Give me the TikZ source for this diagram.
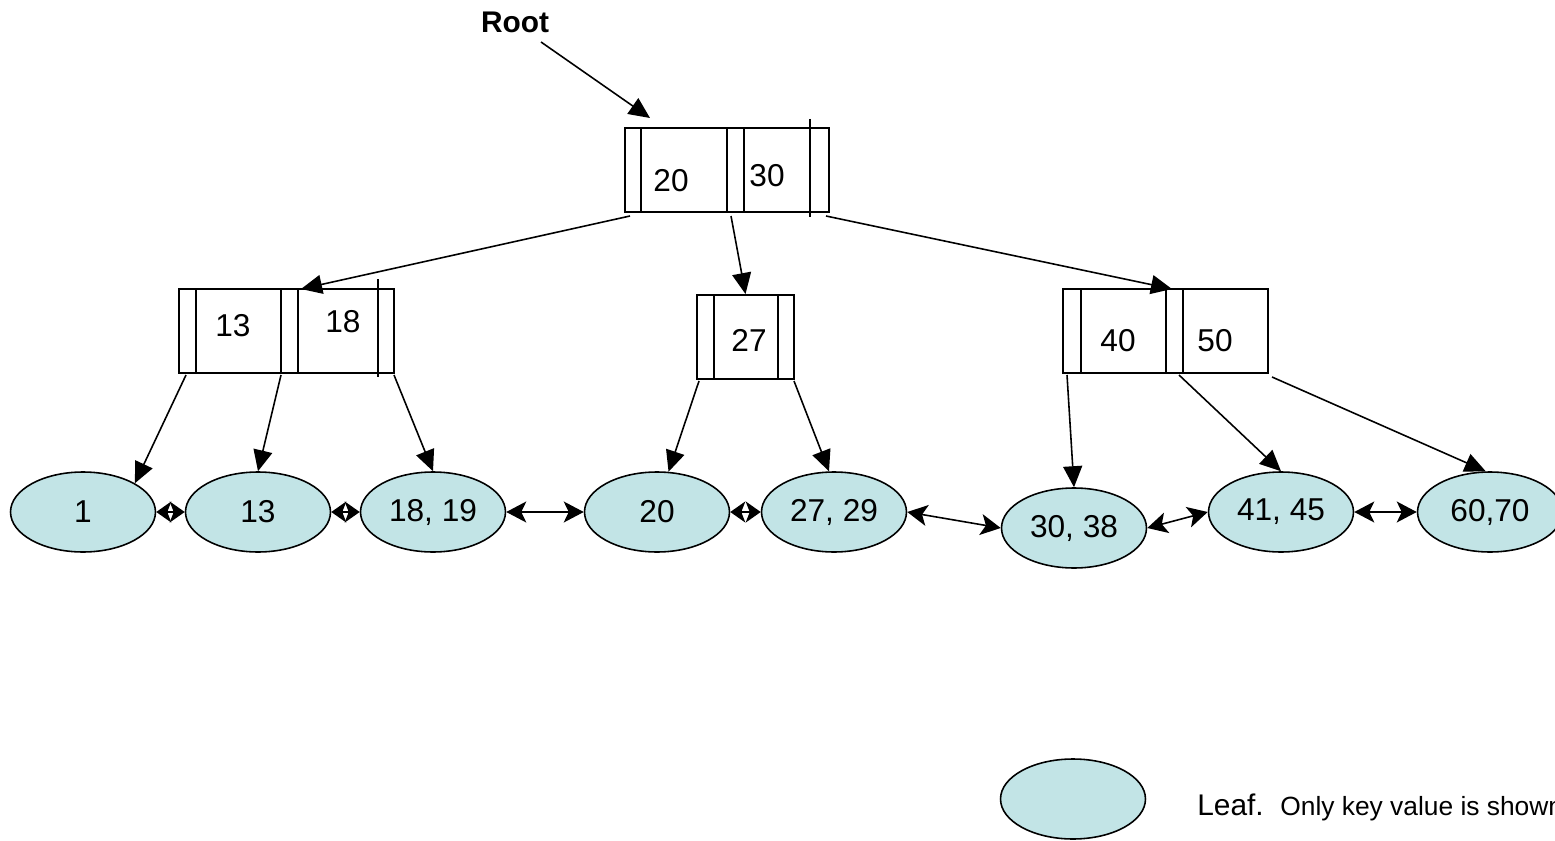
\documentclass[tikz,border=0pt]{standalone}
\usepackage{fontspec}
\setmainfont{Liberation Sans}
\usetikzlibrary{arrows.meta,shapes.geometric}
\definecolor{leafc}{RGB}{194,228,230}
\begin{document}
\begin{tikzpicture}[x=0.02cm,y=-0.02cm,
  leaf/.style={ellipse, draw=black, line width=0.9pt, fill=leafc,
    minimum width=2.9cm, minimum height=1.6cm, inner sep=0pt,
    font=\fontsize{18}{21}\selectfont},
  lbl/.style={font=\fontsize{18}{21}\selectfont, inner sep=0pt},
  boxo/.style={draw, line width=1.1pt, inner sep=0pt, minimum height=1.68cm},
  sepline/.style={line width=1.6pt},
  tarr/.style={-{Triangle[length=0.42cm,width=0.38cm]}, line width=0.9pt},
  larr/.style={{Stealth[length=0.4cm,width=0.42cm,inset=0.1cm]}-{Stealth[length=0.4cm,width=0.42cm,inset=0.1cm]}, line width=0.9pt},
  sarr/.style={{Stealth[length=0.3cm,width=0.42cm,inset=0.08cm]}-{Stealth[length=0.3cm,width=0.42cm,inset=0.08cm]}, line width=0.9pt}]
\useasboundingbox (0,0) rectangle (1555,841);

% Root label
\node[font=\bfseries\fontsize{17}{20}\selectfont, inner sep=0pt] (rootlbl) at (515,22) {Root};
\coordinate (ra) at (541,42);
\coordinate (rb) at (650,118);
\draw[tarr] (ra) -- (rb);

% Root box
\node[boxo, minimum width=4.08cm] (root) at (727,170) {};
\draw[sepline] (641,128) -- (641,212);
\draw[sepline] (727,128) -- (727,212);
\draw[sepline] (744,128) -- (744,212);
\draw[sepline] (810,119) -- (810,217);
\node[lbl] (t20) at (671,181) {20};
\node[lbl] (t30) at (767,176) {30};

% Left box
\node[boxo, minimum width=4.3cm] (lbox) at (286.5,331) {};
\draw[sepline] (196,289) -- (196,373);
\draw[sepline] (281,289) -- (281,373);
\draw[sepline] (298,289) -- (298,373);
\draw[sepline] (378,279) -- (378,377);
\node[lbl] (t13) at (233,326) {13};
\node[lbl] (t18) at (343,322) {18};

% Middle box
\node[boxo, minimum width=1.94cm] (mbox) at (745.5,337) {};
\draw[sepline] (714,295) -- (714,379);
\draw[sepline] (778,295) -- (778,379);
\node[lbl] (t27) at (749,340) {27};

% Right box
\node[boxo, minimum width=4.1cm] (rbox) at (1165.5,331) {};
\draw[sepline] (1081,289) -- (1081,373);
\draw[sepline] (1166,289) -- (1166,373);
\draw[sepline] (1183,289) -- (1183,373);
\node[lbl] (t40) at (1118,341) {40};
\node[lbl] (t50) at (1215,341) {50};

% Leaves
\node[leaf] (l1) at (83,512) {1};
\node[leaf] (l2) at (258,512) {13};
\node[leaf] (l3) at (433,512) {18, 19};
\node[leaf] (l4) at (657,512) {20};
\node[leaf] (l5) at (834,512) {27, 29};
\node[leaf] (l6) at (1074,528) {30, 38};
\node[leaf] (l7) at (1281,512) {41, 45};
\node[leaf] (l8) at (1490,512) {60,70};

% Tree edges
\coordinate (rL) at (630,216);
\coordinate (rM) at (731,216);
\coordinate (rR) at (826,216);
\coordinate (tL) at (301,289);
\coordinate (tR) at (1172,289);
\draw[tarr] (rL) -- (tL);
\draw[tarr] (rM) -- (mbox.north);
\draw[tarr] (rR) -- (tR);

\coordinate (a1) at (186,375);
\coordinate (a2) at (281,375);
\coordinate (a3) at (394,375);
\draw[tarr] (a1) -- (l1.29);
\draw[tarr] (a2) -- (l2.north);
\draw[tarr] (a3) -- (l3.north);

\coordinate (b1) at (699,381);
\coordinate (b2) at (794,381);
\draw[tarr] (b1) -- (l4.74);
\draw[tarr] (b2) -- (l5.97);

\coordinate (c1) at (1067,375);
\coordinate (c2) at (1179,375);
\coordinate (c3) at (1272,377);
\draw[tarr] (c1) -- (l6.north);
\draw[tarr] (c2) -- (l7.north);
\draw[tarr] (c3) -- (l8.96);

% Leaf links
\draw[sarr] (l1) -- (l2);
\draw[sarr] (l2) -- (l3);
\draw[larr] (l3) -- (l4);
\draw[sarr] (l4) -- (l5);
\draw[larr] (l5.east) -- (l6.west);
\draw[larr] (l6.east) -- (l7.west);
\draw[larr] (l7) -- (l8);

% Legend
\node[leaf] (leg) at (1073,799) {};
\node[anchor=base west, inner sep=0pt, font=\fontsize{17}{20}\selectfont] (legt) at (1197,815)
  {Leaf.\ \ {\fontsize{15}{18}\selectfont Only key value is shown}};
\end{tikzpicture}
\end{document}
